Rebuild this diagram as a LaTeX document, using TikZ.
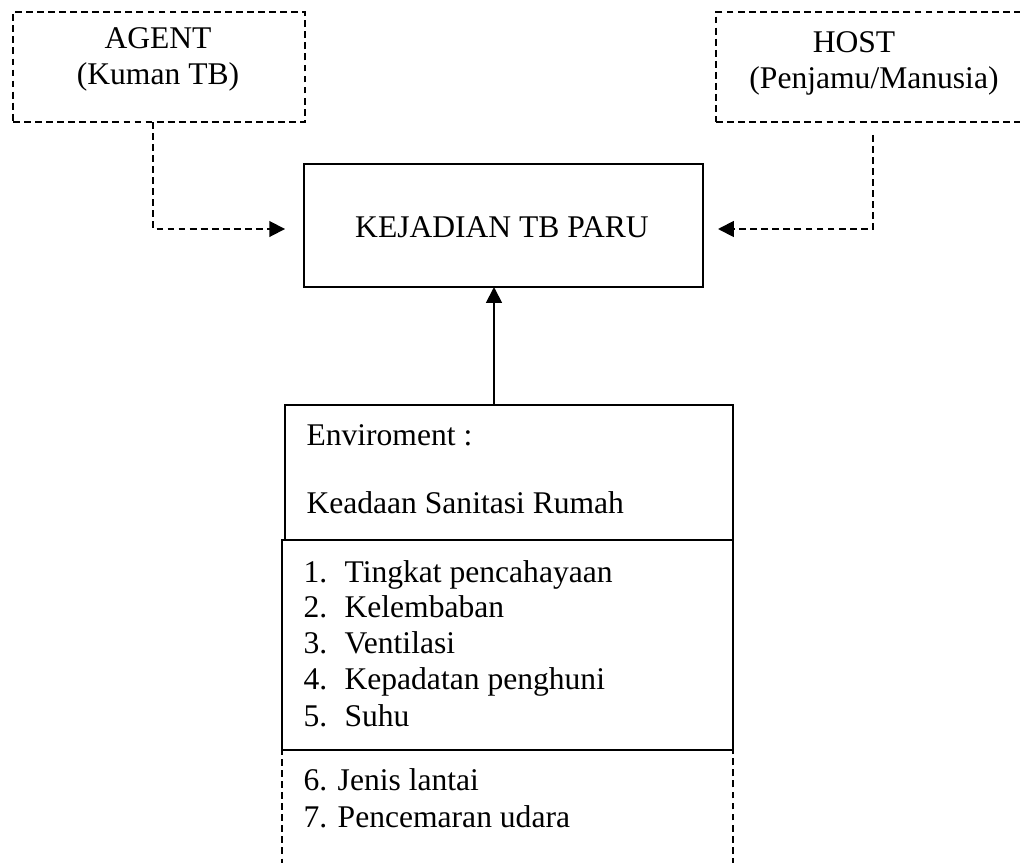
\documentclass[tikz,border=0pt]{standalone}
\usepackage{fontspec}
\setmainfont{Liberation Serif}
\usetikzlibrary{arrows.meta}
\begin{document}
\begin{tikzpicture}[x=0.38pt,y=-0.38pt,
  box/.style={draw,line width=0.7pt,inner sep=0pt,outer sep=0pt,anchor=north west},
  dbox/.style={box,dash pattern=on 2.6pt off 1.6pt},
  txt/.style={inner sep=0pt,font=\fontsize{12}{14}\selectfont},
  dline/.style={line width=0.7pt,dash pattern=on 2.6pt off 1.6pt},
  sline/.style={line width=0.7pt},
  tip/.style={-{Triangle[length=6pt,width=6pt]}}]
\useasboundingbox (0,0) rectangle (1020,863);
\clip (0,0) rectangle (1020,863);
% boxes
\node[dbox,minimum width=292*0.38pt,minimum height=110*0.38pt] (agent) at (13,12) {};
\node[dbox,minimum width=324*0.38pt,minimum height=110*0.38pt] (host) at (716,12) {};
\node[box,minimum width=399*0.38pt,minimum height=123*0.38pt] (kej) at (304,164) {};
\node[dbox,minimum width=451*0.38pt,minimum height=150*0.38pt] (env3) at (282,750) {};
\node[box,minimum width=448*0.38pt,minimum height=135*0.38pt] (env1) at (285,405) {};
\node[box,minimum width=451*0.38pt,minimum height=210*0.38pt] (env2) at (282,540) {};
% texts
\node[txt,anchor=base] (agentT) at (158,48) {AGENT};
\node[txt,anchor=base] (agentS) at (158,84) {(Kuman TB)};
\node[txt,anchor=base] (hostT) at (854,52) {HOST};
\node[txt,anchor=base] (hostS) at (874,88) {(Penjamu/Manusia)};
\node[txt,anchor=base] (kejT) at (502,237) {KEJADIAN TB PARU};
\node[txt,anchor=base west] (envT) at (306,445) {Enviroment :};
\node[txt,anchor=base west] (envS) at (306,513) {Keadaan Sanitasi Rumah};
\node[txt,anchor=base west] (l1) at (303,582) {\makebox[15.6pt][l]{1.}Tingkat pencahayaan};
\node[txt,anchor=base west] (l2) at (303,617) {\makebox[15.6pt][l]{2.}Kelembaban};
\node[txt,anchor=base west] (l3) at (303,653) {\makebox[15.6pt][l]{3.}Ventilasi};
\node[txt,anchor=base west] (l4) at (303,689) {\makebox[15.6pt][l]{4.}Kepadatan penghuni};
\node[txt,anchor=base west] (l5) at (303,726) {\makebox[15.6pt][l]{5.}Suhu};
\node[txt,anchor=base west] (l6) at (303,790) {6. Jenis lantai};
\node[txt,anchor=base west] (l7) at (303,827) {7. Pencemaran udara};
% connectors
\coordinate (ac) at (153,229);
\coordinate (hc) at (873,229);
\coordinate (mx) at (494,300);
\draw[dline,tip,shorten >=7.2pt] (agent.south -| ac) |- (kej.west |- ac);
\draw[dline,tip,shorten <=4.9pt,shorten >=5.7pt] (host.south -| hc) |- (kej.east |- hc);
\draw[sline,tip] (env1.north -| mx) -- (kej.south -| mx);
\end{tikzpicture}
\end{document}
